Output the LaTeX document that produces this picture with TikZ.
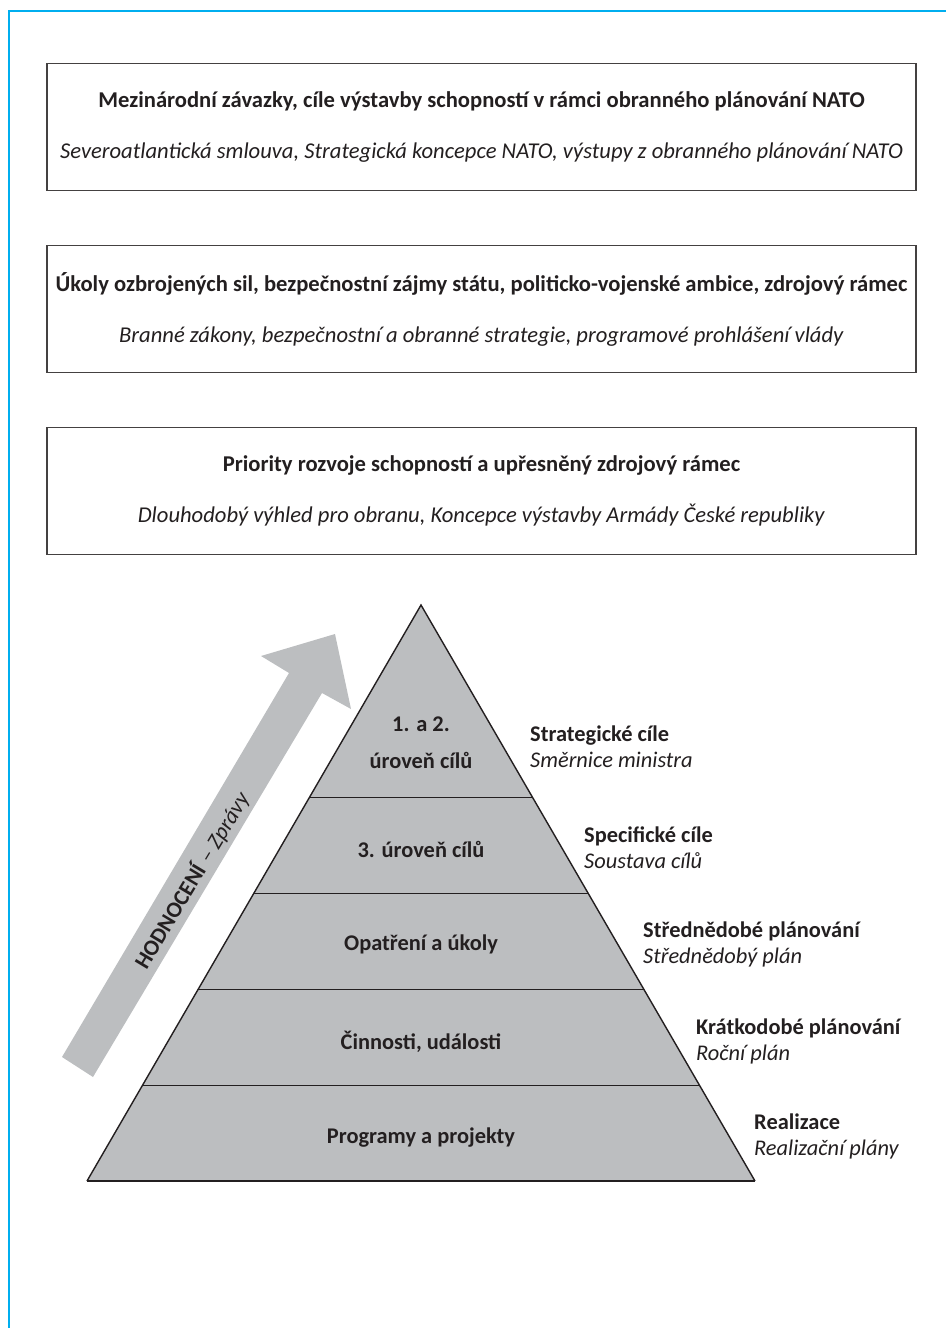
\documentclass[tikz,border=0pt]{standalone}
\usepackage{fontspec}
\setmainfont{Carlito}
\usetikzlibrary{positioning,calc}
\definecolor{FrameCyan}{HTML}{00AEEF}
\definecolor{TierGray}{HTML}{BCBEC0}
\definecolor{InkDark}{HTML}{231F20}
\tikzset{
  infobox/.style={draw=InkDark!85,line width=1.1pt,minimum width=869pt,minimum height=127pt,align=center,font=\fontsize{22.6}{26}\selectfont,text=InkDark,inner sep=0pt},
  tierlabel/.style={align=center,inner sep=0pt,font=\fontsize{22.4}{26}\selectfont\bfseries,text=InkDark},
  sidelabel/.style={anchor=west,align=left,inner sep=0pt,font=\fontsize{22.4}{26}\selectfont,text=InkDark},
  tierline/.style={draw=InkDark,line width=0.9pt},
  pyramidedge/.style={draw=InkDark,line width=1.4pt,line join=miter},
  frameline/.style={draw=FrameCyan,line width=2pt},
  feedback/.style={fill=TierGray,draw=none}
}

\begin{document}
\begin{tikzpicture}[x=1pt,y=-1pt]
\useasboundingbox (0,0) rectangle (946,1328);
\draw[frameline] (8.5,1328) -- (8.5,11) -- (946,11);

% framework boxes, top to bottom
\node[infobox] (nato) at (481.5,127) {\textbf{Mezinárodní závazky, cíle výstavby schopností v rámci obranného plánování NATO}\\[25pt]\textit{Severoatlantická smlouva, Strategická koncepce NATO, výstupy z obranného plánování NATO}};
\node[infobox,below=54pt of nato] (state) {\textbf{Úkoly ozbrojených sil, bezpečnostní zájmy státu, politicko-vojenské ambice, zdrojový rámec}\\[25pt]\textit{Branné zákony, bezpečnostní a obranné strategie, programové prohlášení vlády}};
\node[infobox,below=54pt of state] (prio) {\textbf{Priority rozvoje schopností a upřesněný zdrojový rámec}\\[25pt]\textit{Dlouhodobý výhled pro obranu, Koncepce výstavby Armády České republiky}};

% feedback arrow
\fill[feedback] (62,1057) -- (289,673) -- (261,656) -- (335,634) -- (351,709) -- (322,693) -- (93,1077) -- cycle;
\node[rotate=59,inner sep=0pt,font=\fontsize{22.4}{26}\selectfont,text=InkDark] (eval) at (192,880) {\textbf{HODNOCENÍ} \textit{– Zprávy}};

% pyramid
\coordinate (apex) at (421,605);
\coordinate (bl) at (87,1181);
\coordinate (br) at (755,1181);
\fill[TierGray] (apex) -- (bl) -- (br) -- cycle;
\foreach \t in {0.3333,0.5,0.6667,0.8333}
  \draw[tierline] ($(apex)!\t!(bl)$) -- ($(apex)!\t!(br)$);
\draw[pyramidedge] (bl) -- (apex) -- (br);
\draw[InkDark,line width=2.4pt] (bl) -- (br);

\node[tierlabel] (goals12) at (421,743) {1. a 2.\\[11pt]úroveň cílů};
\node[tierlabel] (goals3) at (421,849) {3. úroveň cílů};
\node[tierlabel] (measures) at (421,944) {Opatření a úkoly};
\node[tierlabel] (activities) at (421,1042) {Činnosti, události};
\node[tierlabel] (programmes) at (421,1138) {Programy a projekty};

% levels beside the pyramid
\node[sidelabel] (strat) at (530,747) {\textbf{Strategické cíle}\\\textit{Směrnice ministra}};
\node[sidelabel] (spec) at (584,848) {\textbf{Specifické cíle}\\\textit{Soustava cílů}};
\node[sidelabel] (mid) at (643,944) {\textbf{Střednědobé plánování}\\\textit{Střednědobý plán}};
\node[sidelabel] (short) at (696,1041) {\textbf{Krátkodobé plánování}\\\textit{Roční plán}};
\node[sidelabel] (real) at (754,1136) {\textbf{Realizace}\\\textit{Realizační plány}};
\end{tikzpicture}
\end{document}
